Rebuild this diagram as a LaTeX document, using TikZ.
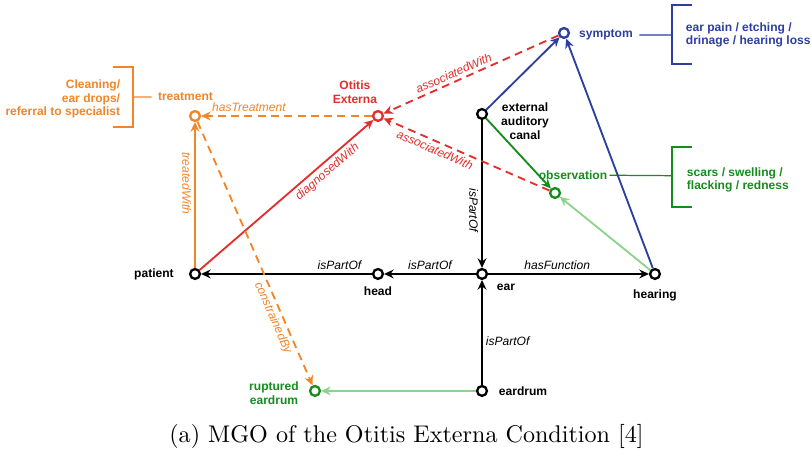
\documentclass[tikz,border=0pt]{standalone}
\usepackage{fontspec}
\newfontfamily\arialfont{Liberation Sans}
\usetikzlibrary{arrows.meta,positioning}
\definecolor{mgoorange}{RGB}{242,133,40}
\definecolor{mgored}{RGB}{226,46,44}
\definecolor{mgoblue}{RGB}{44,62,160}
\definecolor{mgogreen}{RGB}{22,140,28}
\definecolor{mgolight}{RGB}{140,212,140}

\begin{document}
\begin{tikzpicture}[->, >={Stealth[length=3.9pt,width=3.6pt,inset=1.3pt]}, line width=0.75pt, node distance=1.5cm,
  main node/.style={circle, draw, fill=white, line width=0.95pt, minimum size=0.14cm, inner sep=0pt},
  name node/.style={font=\arialfont\bfseries\fontsize{4.9}{5.6}\selectfont, inner sep=0pt, align=center},
  dash line/.style={dash pattern=on 3.2pt off 2.2pt}]
  \tikzstyle{every node}=[font=\arialfont\fontsize{4.9}{5.6}\selectfont]
  \useasboundingbox (0,0) rectangle (11.586,6.5);

  % concepts
  \node[main node] (ear) at (6.886,2.586) {};
  \node[main node, node distance=1.486cm] (head) [left of=ear] {};
  \node[main node, node distance=2.614cm] (patient) [left of=head] {};
  \node[main node, node distance=2.471cm] (hearing) [right of=ear] {};
  \node[main node, node distance=1.671cm] (eardrum) [below of=ear] {};
  \node[main node, draw=mgogreen, node distance=2.386cm] (ruptured) [left of=eardrum] {};
  \node[main node, node distance=2.286cm] (canal) [above of=ear] {};
  \node[main node, draw=mgored, node distance=2.257cm] (otitis) [above of=head] {};
  \node[main node, draw=mgoorange, node distance=2.257cm] (treatment) [above of=patient] {};
  \node[main node, draw=mgogreen, node distance=1.157cm, xshift=1.043cm] (observation) [above of=ear] {};
  \node[main node, draw=mgoblue, node distance=3.443cm, xshift=1.171cm] (symptom) [above of=ear] {};

  % names
  \node[name node, mgoblue, node distance=0.6cm, yshift=-0.03cm] (symlbl) [right of=symptom] {symptom};
  \node[name node, mgored, node distance=0.34cm, xshift=-0.33cm] (otlbl) [above of=otitis] {Otitis\\Externa};
  \node[name node, mgoorange, node distance=0.27cm, xshift=-0.136cm] (trtlbl) [above of=treatment] {treatment};
  \node[name node, node distance=0.614cm, yshift=-0.1cm] (canlbl) [right of=canal] {external\\auditory\\canal};
  \node[name node, mgogreen, node distance=0.257cm, xshift=0.257cm] (obslbl) [above of=observation] {observation};
  \node[name node, node distance=0.586cm] (patlbl) [left of=patient] {patient};
  \node[name node, node distance=0.243cm] (headlbl) [below of=head] {head};
  \node[name node, node distance=0.343cm, yshift=-0.186cm] (earlbl) [right of=ear] {ear};
  \node[name node, node distance=0.3cm] (hearlbl) [below of=hearing] {hearing};
  \node[name node, node distance=0.586cm] (drumlbl) [right of=eardrum] {eardrum};
  \node[name node, mgogreen, node distance=0.586cm, yshift=-0.03cm] (ruplbl) [left of=ruptured] {ruptured\\eardrum};

  % instances
  \node[name node, mgoblue, align=left, anchor=west] (symlist) at (9.786,6.0) {ear pain / etching /\\drinage / hearing loss};
  \node[name node, mgogreen, align=left, anchor=west] (obslist) at (9.8,3.93) {scars / swelling /\\flacking / redness};
  \node[name node, mgoorange, align=right, anchor=east] (trtlist) at (1.729,5.086) {Cleaning/\\ear drops/\\referral to specialist};

  \coordinate (symbr) at (9.6,6.0);
  \coordinate (symtop) at (9.886,6.429);
  \coordinate (symbot) at (9.886,5.586);
  \coordinate (obsbr) at (9.6,3.99);
  \coordinate (obstop) at (9.886,4.4);
  \coordinate (obsbot) at (9.886,3.543);
  \coordinate (trtbr) at (1.9,5.114);
  \coordinate (trttop) at (1.614,5.543);
  \coordinate (trtbot) at (1.614,4.686);

  \draw[-, mgoblue, line width=0.5pt, shorten <=0.08cm] (symlbl) -- (symbr);
  \draw[-, mgoblue, line width=0.5pt] (symtop) -| (symbr) |- (symbot);
  \draw[-, mgogreen, line width=0.5pt, shorten <=0.02cm] (obslbl) -- (obsbr);
  \draw[-, mgogreen, line width=0.5pt] (obstop) -| (obsbr) |- (obsbot);
  \draw[-, mgoorange, line width=0.5pt, shorten <=0.08cm] (trtlbl) -- (trtbr);
  \draw[-, mgoorange, line width=0.5pt] (trttop) -| (trtbr) |- (trtbot);

  % relations
  \path[every node/.style={font=\arialfont\itshape\fontsize{4.9}{5.6}\selectfont, inner sep=1.2pt}]
    (head) edge node [above, pos=0.19] {isPartOf} (patient)
    (ear) edge node [above] {isPartOf} (head)
    (ear) edge node [above, pos=0.43] {hasFunction} (hearing)
    (canal) edge node [pos=0.61, rotate=-90, anchor=north] {isPartOf} (ear)
    (eardrum) edge node [right, pos=0.42] {isPartOf} (ear)
    (eardrum) edge [mgolight] (ruptured)
    (hearing) edge [mgolight] (observation)
    (canal) edge [mgogreen] (observation)
    (canal) edge [mgoblue] (symptom)
    (hearing) edge [mgoblue] (symptom)
    (patient) edge [mgored] node [sloped, below, pos=0.7] {diagnosedWith} (otitis)
    (patient) edge [mgoorange] node [pos=0.58, rotate=-90, anchor=north] {treatedWith} (treatment)
    (otitis) edge [mgoorange, dash line] node [above, pos=0.72] {hasTreatment} (treatment)
    (treatment) edge [mgoorange, dash line] node [sloped, below, pos=0.73] {constrainedBy} (ruptured)
    (symptom) edge [mgored, dash line] node [sloped, above, pos=0.58] {associatedWith} (otitis)
    (observation) edge [mgored, dash line] node [sloped, below, pos=0.67] {associatedWith} (otitis);

  \node[font=\fontsize{9.8}{12}\selectfont] (caption) at (5.807,0.27) {(a) MGO of the Otitis Externa Condition [4]};
\end{tikzpicture}
\end{document}
